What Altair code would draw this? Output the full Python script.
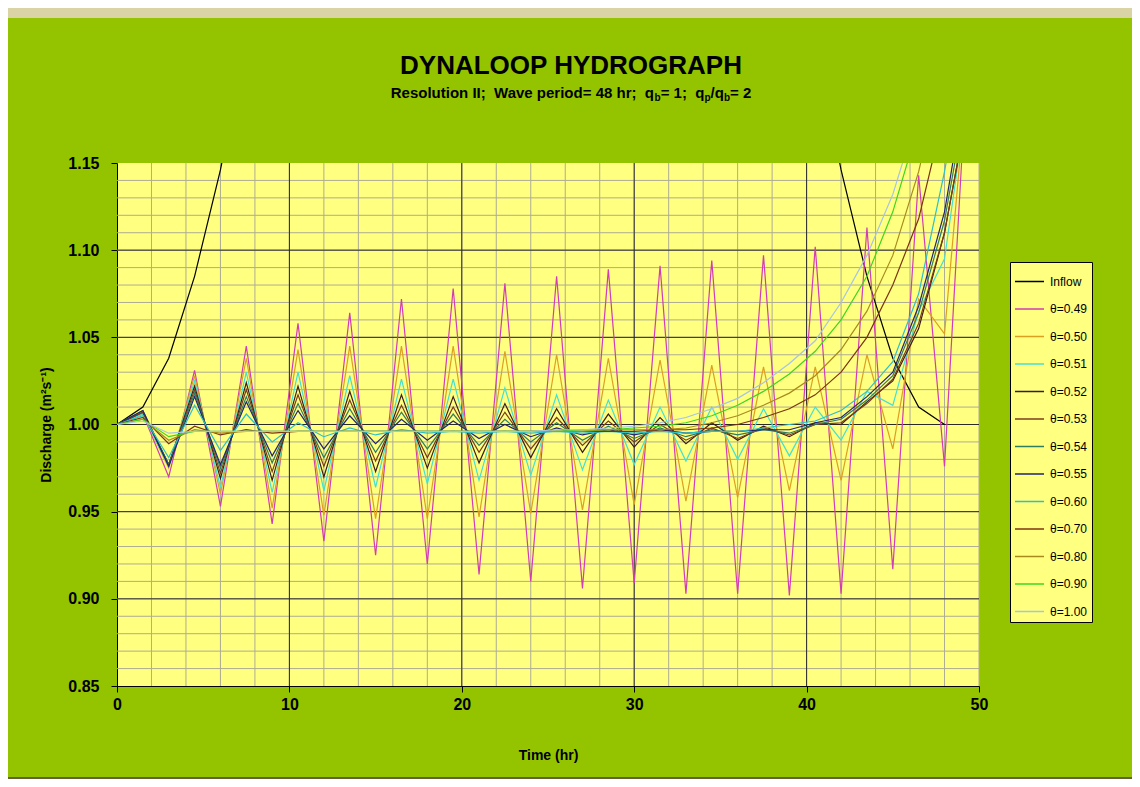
import altair as alt
import pandas as pd

# ---------------- data ----------------
time_hr = [0, 1.5, 3, 4.5, 6, 7.5, 9, 10.5, 12, 13.5,
           15, 16.5, 18, 19.5, 21, 22.5, 24, 25.5, 27, 28.5,
           30, 31.5, 33, 34.5, 36, 37.5, 39, 40.5, 42, 43.5,
           45, 46.5, 48, 49.5]

inflow = [1.000, 1.010, 1.038, 1.085, 1.146, 1.222, 1.309, 1.402, 1.500, 1.598,
          1.691, 1.778, 1.854, 1.915, 1.962, 1.990, 2.000, 1.990, 1.962, 1.915,
          1.854, 1.778, 1.691, 1.598, 1.500, 1.402, 1.309, 1.222, 1.146, 1.085,
          1.038, 1.010, 1.000]

theta_049 = [1.000, 1.006, 0.970, 1.031, 0.953, 1.045, 0.943, 1.058, 0.933, 1.064,
             0.925, 1.072, 0.920, 1.078, 0.914, 1.081, 0.910, 1.085, 0.906, 1.089,
             0.909, 1.091, 0.903, 1.094, 0.903, 1.097, 0.902, 1.102, 0.903, 1.113,
             0.917, 1.143, 0.976, 1.240]

theta_050 = [1.000, 1.006, 0.975, 1.028, 0.960, 1.038, 0.952, 1.043, 0.948, 1.045,
             0.946, 1.045, 0.946, 1.045, 0.947, 1.042, 0.949, 1.040, 0.951, 1.038,
             0.954, 1.037, 0.956, 1.034, 0.958, 1.033, 0.962, 1.033, 0.968, 1.040,
             0.986, 1.072, 1.052, 1.220]

theta_051 = [1.000, 1.006, 0.976, 1.025, 0.964, 1.030, 0.961, 1.030, 0.962, 1.028,
             0.964, 1.026, 0.966, 1.026, 0.968, 1.021, 0.971, 1.017, 0.974, 1.014,
             0.977, 1.010, 0.979, 1.010, 0.980, 1.009, 0.982, 1.010, 0.991, 1.019,
             1.011, 1.065, 1.095, 1.200]

theta_052 = [1.000, 1.007, 0.977, 1.022, 0.969, 1.024, 0.968, 1.022, 0.970, 1.019,
             0.973, 1.017, 0.975, 1.016, 0.978, 1.012, 0.981, 1.009, 0.984, 1.006,
             0.987, 1.004, 0.989, 1.001, 0.991, 0.999, 0.993, 1.001, 1.000, 1.013,
             1.025, 1.055, 1.110, 1.190]

theta_053 = [1.000, 1.007, 0.977, 1.020, 0.972, 1.020, 0.973, 1.017, 0.976, 1.014,
             0.979, 1.011, 0.981, 1.010, 0.984, 1.007, 0.986, 1.004, 0.988, 1.002,
             0.990, 1.000, 0.991, 0.998, 0.992, 0.998, 0.994, 1.000, 1.001, 1.012,
             1.026, 1.058, 1.110, 1.190]

theta_054 = [1.000, 1.008, 0.977, 1.018, 0.975, 1.016, 0.978, 1.012, 0.981, 1.009,
             0.984, 1.007, 0.986, 1.006, 0.988, 1.003, 0.990, 1.001, 0.991, 0.999,
             0.992, 0.998, 0.993, 0.997, 0.994, 0.997, 0.995, 1.000, 1.003, 1.014,
             1.028, 1.064, 1.117, 1.200]

theta_055 = [1.000, 1.008, 0.976, 1.016, 0.977, 1.013, 0.982, 1.008, 0.986, 1.005,
             0.989, 1.003, 0.991, 1.002, 0.992, 1.000, 0.993, 0.998, 0.994, 0.997,
             0.994, 0.997, 0.995, 0.996, 0.996, 0.997, 0.997, 1.001, 1.004, 1.016,
             1.030, 1.068, 1.122, 1.210]

theta_060 = [1.000, 1.005, 0.981, 1.011, 0.985, 1.006, 0.990, 1.001, 0.993, 0.998,
             0.994, 0.997, 0.995, 0.996, 0.995, 0.996, 0.995, 0.996, 0.995, 0.996,
             0.995, 0.996, 0.995, 0.996, 0.996, 0.998, 1.000, 1.002, 1.008, 1.019,
             1.036, 1.075, 1.145, 1.230]

theta_070 = [1.000, 1.004, 0.989, 0.999, 0.994, 0.997, 0.995, 0.996, 0.996, 0.996,
             0.996, 0.996, 0.996, 0.996, 0.996, 0.996, 0.996, 0.996, 0.996, 0.996,
             0.996, 0.997, 0.997, 0.998, 1.000, 1.004, 1.009, 1.017, 1.030, 1.050,
             1.080, 1.118, 1.180, 1.260]

theta_080 = [1.000, 1.003, 0.991, 0.997, 0.995, 0.996, 0.996, 0.996, 0.996, 0.996,
             0.996, 0.996, 0.996, 0.996, 0.996, 0.996, 0.996, 0.996, 0.996, 0.997,
             0.997, 0.997, 0.998, 1.001, 1.005, 1.011, 1.018, 1.028, 1.043, 1.065,
             1.097, 1.145, 1.210, 1.290]

theta_090 = [1.000, 1.003, 0.993, 0.996, 0.996, 0.996, 0.996, 0.996, 0.996, 0.996,
             0.996, 0.996, 0.996, 0.996, 0.996, 0.996, 0.996, 0.996, 0.997, 0.997,
             0.998, 0.999, 1.001, 1.005, 1.011, 1.019, 1.029, 1.042, 1.060, 1.085,
             1.122, 1.172, 1.230, 1.300]

theta_100 = [1.000, 1.002, 0.995, 0.996, 0.996, 0.996, 0.996, 0.996, 0.996, 0.996,
             0.996, 0.996, 0.996, 0.996, 0.996, 0.996, 0.996, 0.997, 0.997, 0.998,
             0.999, 1.001, 1.004, 1.009, 1.015, 1.024, 1.035, 1.048, 1.070, 1.097,
             1.132, 1.180, 1.240, 1.310]

series_names = ["Inflow", "θ=0.49", "θ=0.50", "θ=0.51", "θ=0.52", "θ=0.53", "θ=0.54",
                "θ=0.55", "θ=0.60", "θ=0.70", "θ=0.80", "θ=0.90", "θ=1.00"]
series_values = [inflow, theta_049, theta_050, theta_051, theta_052, theta_053, theta_054,
                 theta_055, theta_060, theta_070, theta_080, theta_090, theta_100]
series_colors = ["#000000", "#d23cb4", "#dd9f22", "#44e0d0", "#3b1c1c", "#7b3c1c", "#2e7d5e",
                 "#232374", "#2ec0c8", "#7c3412", "#a78a1e", "#3fd61f", "#a6c4e6"]

x_ticks = [0, 10, 20, 30, 40, 50]
y_ticks = [0.85, 0.90, 0.95, 1.00, 1.05, 1.10, 1.15]

# ---------------- build table ----------------
rows = []
for k, (name, vals) in enumerate(zip(series_names, series_values)):
    for t, v in zip(time_hr, vals):
        rows.append({"series": name, "t": t, "q": v, "k": k})
df = pd.DataFrame(rows)

# ---------------- style ----------------
FONT = "Liberation Sans"
GREEN = "#94c400"
PLOT_BG = "#ffff80"
MINOR = "#aeac94"
MAJOR = "#2a2a2a"
W, H = 862, 523
PAD = {"left": 109, "top": 155, "right": 153, "bottom": 93}

xs = alt.Scale(domain=[0, 50], nice=False, zero=False)
ys = alt.Scale(domain=[0.85, 1.15], nice=False, zero=False)

xaxis = alt.Axis(values=x_ticks, title="Time (hr)", grid=False, domainColor="black",
                 tickColor="black", tickSize=6, labelFont=FONT, labelFontSize=16,
                 labelFontWeight="bold", labelColor="black", labelPadding=4,
                 labelFlush=False, titleFont=FONT, titleFontSize=14,
                 titleFontWeight="bold", titleColor="black", titlePadding=36)
yaxis = alt.Axis(values=y_ticks, format=".2f", title="Discharge (m²s⁻¹)", grid=False,
                 domainColor="black", tickColor="black", tickSize=6, labelFont=FONT,
                 labelFontSize=16, labelFontWeight="bold", labelColor="black",
                 labelPadding=12, labelFlush=False, titleFont=FONT, titleFontSize=14,
                 titleFontWeight="bold", titleColor="black", titlePadding=14)

one = pd.DataFrame({"a": [0]})

minor_x = pd.DataFrame({"v": [2 * k for k in range(1, 26)]})
minor_y = pd.DataFrame({"v": [round(0.85 + 0.01 * k, 2) for k in range(1, 30)]})
major_x = pd.DataFrame({"v": [10, 20, 30, 40]})
major_y = pd.DataFrame({"v": [0.90, 0.95, 1.00, 1.05, 1.10]})

grid_minor_x = alt.Chart(minor_x).mark_rule(color=MINOR, strokeWidth=1).encode(
    x=alt.X("v:Q", scale=xs, axis=xaxis))
grid_minor_y = alt.Chart(minor_y).mark_rule(color=MINOR, strokeWidth=1).encode(
    y=alt.Y("v:Q", scale=ys, axis=yaxis))
grid_major_x = alt.Chart(major_x).mark_rule(color=MAJOR, strokeWidth=1).encode(
    x=alt.X("v:Q", scale=xs, axis=xaxis))
grid_major_y = alt.Chart(major_y).mark_rule(color=MAJOR, strokeWidth=1).encode(
    y=alt.Y("v:Q", scale=ys, axis=yaxis))

lines = alt.Chart(df).mark_line(strokeWidth=1.2, clip=True).encode(
    x=alt.X("t:Q", scale=xs, axis=xaxis),
    y=alt.Y("q:Q", scale=ys, axis=yaxis),
    color=alt.Color("series:N",
                    scale=alt.Scale(domain=series_names, range=series_colors),
                    legend=alt.Legend(orient="none", legendX=893, legendY=99, title=None,
                                      symbolType="stroke", symbolSize=841,
                                      symbolStrokeWidth=1.5, labelFont=FONT,
                                      labelFontSize=12, labelColor="black",
                                      fillColor=PLOT_BG, strokeColor="black",
                                      padding=4, rowPadding=5.5, labelOffset=5)),
    order=alt.Order("t:Q"),
)

# ---------------- frame decorations & titles ----------------
top_band = alt.Chart(one).mark_rect(color="#d9d3a6").encode(
    x=alt.value(-PAD["left"]), x2=alt.value(W + PAD["right"]),
    y=alt.value(-PAD["top"]), y2=alt.value(-PAD["top"] + 10))
bottom_band = alt.Chart(one).mark_rect(color="#645f36").encode(
    x=alt.value(-PAD["left"]), x2=alt.value(W + PAD["right"]),
    y=alt.value(H + PAD["bottom"] - 2), y2=alt.value(H + PAD["bottom"]))

CX = 454  # title centre relative to plot origin
title = alt.Chart(one).mark_text(text="DYNALOOP HYDROGRAPH", font=FONT, fontSize=26,
                                 fontWeight="bold", align="center", baseline="middle",
                                 color="black").encode(x=alt.value(CX), y=alt.value(-97))

# subtitle with subscripts, laid out with Arial-Bold advance widths
AB = {' ': 278, '\u00a0': 278, 'R': 722, 'e': 556, 's': 556, 'o': 611, 'l': 278, 'u': 611,
      't': 333, 'i': 278, 'n': 611, 'I': 278, ';': 333, 'W': 944, 'a': 556, 'v': 556,
      'p': 611, 'r': 389, 'd': 611, '=': 584, '4': 556, '8': 556, 'h': 611, 'q': 611,
      'b': 611, '1': 556, '/': 278, '2': 556}
NB = '\u00a0'
pieces = [("Resolution II;" + NB + NB + "Wave period= 48 hr;" + NB + NB + "q", 15, 0),
          ("b", 10, 3), ("= 1;" + NB + NB + "q", 15, 0), ("p", 10, 3), ("/q", 15, 0),
          ("b", 10, 3), ("= 2", 15, 0)]
widths = [sum(AB.get(c, 556) for c in txt) * size / 1000 for txt, size, _ in pieces]
x0 = CX - sum(widths) / 2
subtitle_layers = []
for (txt, size, dy), w in zip(pieces, widths):
    subtitle_layers.append(
        alt.Chart(one).mark_text(text=txt, font=FONT, fontSize=size, fontWeight="bold",
                                 align="left", baseline="alphabetic", color="black")
        .encode(x=alt.value(x0), y=alt.value(-65 + dy)))
    x0 += w

chart = alt.layer(
    grid_minor_x, grid_minor_y, grid_major_x, grid_major_y, lines,
    top_band, bottom_band, title, *subtitle_layers
).properties(
    width=W, height=H, background=GREEN, padding=PAD,
    autosize=alt.AutoSizeParams(type="none"),
).configure_view(fill=PLOT_BG, strokeWidth=0)

chart.save("out.html", embed_options={"renderer": "svg", "actions": False})
